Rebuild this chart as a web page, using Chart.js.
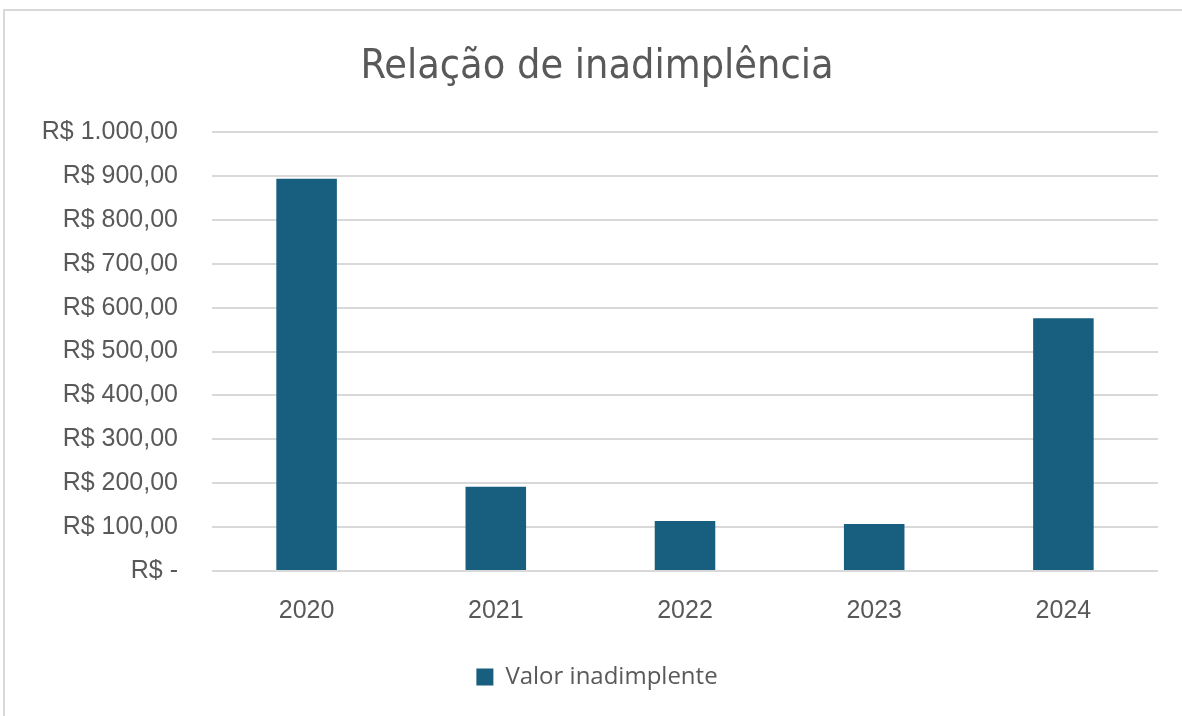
<!DOCTYPE html>
<html>
<head>
<meta charset="utf-8">
<script src="https://cdn.jsdelivr.net/npm/chart.js@4.4.1/dist/chart.umd.min.js"></script>
<style>
  html, body { margin: 0; padding: 0; background: #fff; overflow: hidden; }
  #frame { position: absolute; left: 3px; top: 9px; width: 1200px; height: 740px; border: 2px solid #d9d9d9; box-sizing: border-box; }
  #wrap { position: absolute; left: 0; top: 0; width: 1182px; height: 716px; }
</style>
</head>
<body>
<div id="frame"></div>
<div id="wrap"><canvas id="chart"></canvas></div>
<script>
const years = ['2020', '2021', '2022', '2023', '2024'];
const valorInadimplente = [894, 192, 114, 107, 576];
const tickValues = [0, 100, 200, 300, 400, 500, 600, 700, 800, 900, 1000];
const tickLabels = ['R$ -', 'R$ 100,00', 'R$ 200,00', 'R$ 300,00', 'R$ 400,00', 'R$ 500,00',
                    'R$ 600,00', 'R$ 700,00', 'R$ 800,00', 'R$ 900,00', 'R$ 1.000,00'];

const textGrey = '#595959';
const barBlue = '#175e7f';

const ctx = document.getElementById('chart').getContext('2d');
const chart = new Chart(ctx, {
  type: 'bar',
  data: {
    labels: years,
    datasets: [{
      label: 'Valor inadimplente',
      data: valorInadimplente,
      backgroundColor: barBlue,
      borderWidth: 0,
      barPercentage: 0.32,
      categoryPercentage: 1
    }]
  },
  options: {
    responsive: true,
    maintainAspectRatio: false,
    animation: false,
    layout: {
      // extra left padding pushes the title centre a bit to the right, like the original
      padding: { top: 10, left: 36, right: 24, bottom: 17 }
    },
    scales: {
      x: {
        grid: { display: false, drawTicks: false },
        border: { display: false },
        ticks: {
          color: textGrey,
          padding: 25,
          font: { family: 'Liberation Sans', size: 25 }
        },
        afterFit: function(scale) { scale.height = 84; }
      },
      y: {
        min: 0,
        max: 1000,
        afterBuildTicks: function(scale) {
          scale.ticks = tickValues.map(v => ({ value: v }));
        },
        grid: { color: '#d9d9d9', lineWidth: 2, drawTicks: false },
        border: { display: false },
        ticks: {
          color: textGrey,
          padding: 34,
          font: { family: 'Liberation Sans', size: 25 },
          callback: function(value) {
            const i = tickValues.indexOf(value);
            return i >= 0 ? tickLabels[i] : '';
          }
        },
        afterFit: function(scale) { scale.width = 176; }
      }
    },
    plugins: {
      title: {
        display: true,
        text: 'Relação de inadimplência',
        color: textGrey,
        font: { family: 'DejaVu Sans Condensed, Liberation Sans', size: 41, weight: 'normal' },
        padding: { top: 33, bottom: 40 }
      },
      legend: {
        position: 'bottom',
        labels: {
          color: textGrey,
          boxWidth: 17,
          boxHeight: 17,
          padding: 10,
          font: { family: 'Open Sans', size: 24 }
        }
      },
      tooltip: { enabled: false }
    }
  }
});
</script>
</body>
</html>
